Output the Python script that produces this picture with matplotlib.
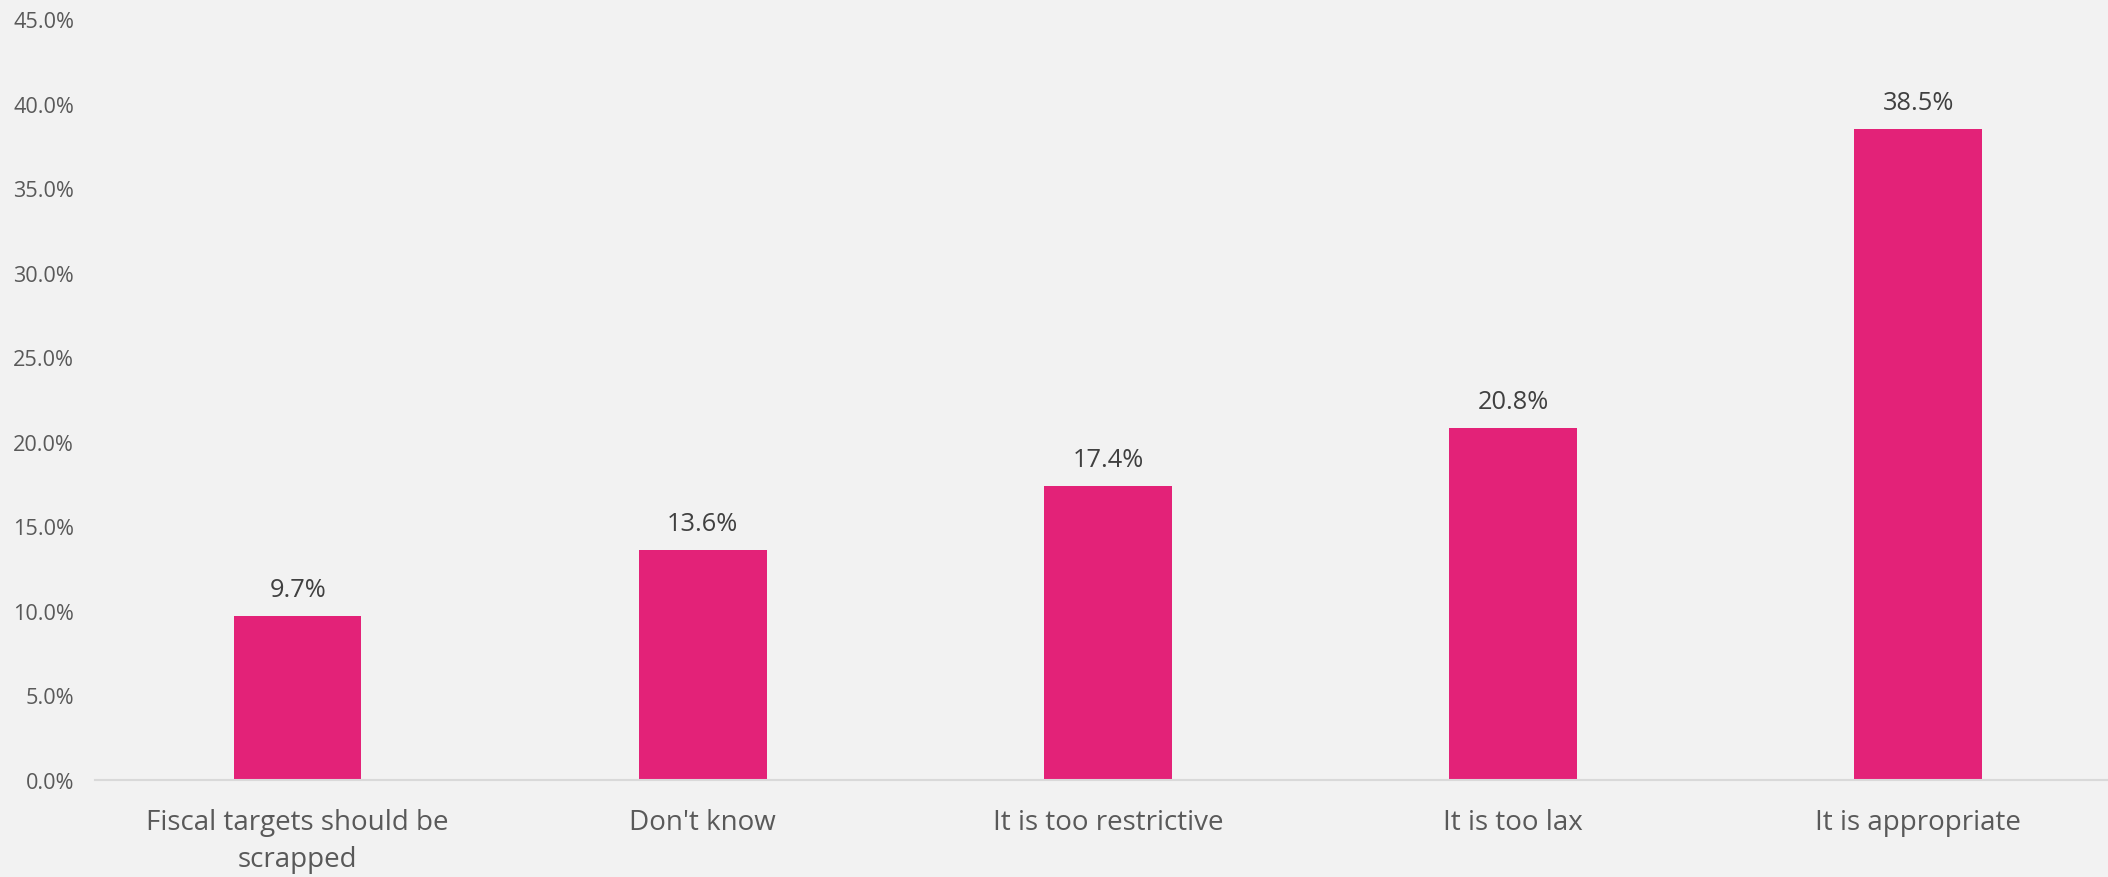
import matplotlib.pyplot as plt
from matplotlib.ticker import PercentFormatter

plt.rcParams['font.family'] = ['Open Sans', 'DejaVu Sans']

categories = ["Fiscal targets should be\nscrapped", "Don't know", "It is too restrictive",
              "It is too lax", "It is appropriate"]
values = [9.7, 13.6, 17.4, 20.8, 38.5]
yticks = [0, 5, 10, 15, 20, 25, 30, 35, 40, 45]

bg = "#F2F2F2"
pink = "#E32278"

fig = plt.figure(figsize=(21.08, 8.78), dpi=100, facecolor=bg)
ax = fig.add_axes([0.0451, 0.1105, 0.961, 0.8665], facecolor=bg)

x = range(len(values))
bars = ax.bar(x, values, width=0.315, color=pink, zorder=2)

for b, v in zip(bars, values):
    ax.annotate(f"{v:.1f}%", (b.get_x() + b.get_width() / 2, v),
                xytext=(0, 19), textcoords="offset points", ha="center", va="center",
                fontsize=18.3, color="#404040")

ax.set_xlim(-0.5, len(values) - 0.5)
ax.set_ylim(0, 45)
ax.set_yticks(yticks)
ax.yaxis.set_major_formatter(PercentFormatter(decimals=1))
ax.set_xticks(list(x))
ax.set_xticklabels(categories, fontsize=20, color="#595959", linespacing=1.45)
ax.tick_params(axis="y", length=0, pad=15, labelsize=15.6, labelcolor="#595959")
ax.tick_params(axis="x", length=0, pad=20)

for s in ["top", "right", "left"]:
    ax.spines[s].set_visible(False)
ax.spines["bottom"].set_color("#D9D9D9")
ax.spines["bottom"].set_linewidth(1.5)

plt.savefig("out.png", dpi=100, facecolor=bg)
